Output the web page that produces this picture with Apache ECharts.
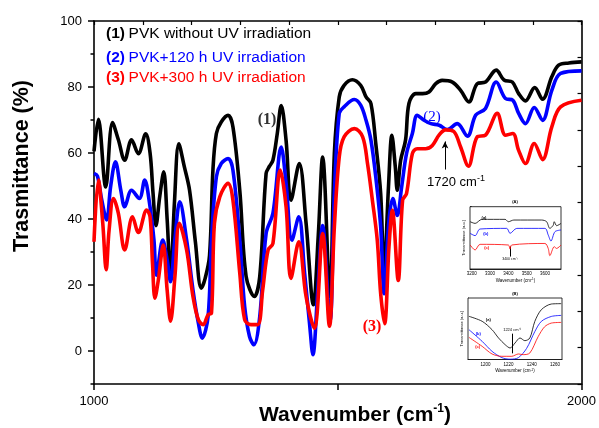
<!DOCTYPE html>
<html><head><meta charset="utf-8">
<script src="https://cdn.jsdelivr.net/npm/echarts@6/dist/echarts.min.js"></script>
<style>html,body{margin:0;padding:0;background:#fff}#c{width:599px;height:428px}</style>
</head><body><div id="c"></div>
<script>
// ---- main spectrum data (wavenumber cm-1, transmittance %) ----
const blackWn = [1000,1009,1024,1038,1050,1063,1077,1091,1106,1115,1121,1127,1135,1143,1150,1157,1165,1174,1185,1196,1208,1220,1228,1237,1244,1251,1261,1275,1285,1299,1312,1329,1340,1353,1360,1367,1376,1384,1394,1404,1421,1435,1450,1460,1469,1484,1493,1503,1513,1530,1547,1558,1568,1578,1588,1595,1604,1611,1618,1622,1629,1639,1646,1660,1674,1687,1701,1714,1735,1752,1769,1786,1803,1825,1841,1858,1871,1885,1904,1920,1939,1953,1974,2000];
const blackT = [60.5,70.2,49.7,69.2,64,57.8,64,59.8,65.8,60,48,38,47,54.3,40,22.5,45,62.8,56,48.7,33,19,22,29,55,65.9,69.4,71.4,67.9,48.7,22.6,16.5,22.6,53.8,56,57.8,66,74.4,63.8,45.7,56.8,38.7,14,35,58.8,16.5,59.8,77,80.5,82.2,80.5,77,75,62.8,47.7,23.4,49.7,65.4,55.8,48.7,57.8,63.9,75,78,78,78.5,81,82,81.5,79,75.5,81,81.5,85.1,82.1,81.5,78,75.8,79.8,76.3,83.1,86.6,87.3,87.6];
const blueWn = [1000,1007,1016,1026,1034,1044,1055,1063,1077,1093,1104,1113,1123,1128,1141,1150,1157,1166,1176,1190,1203,1214,1222,1234,1241,1251,1261,1275,1285,1299,1309,1319,1328,1340,1353,1367,1384,1394,1406,1420,1432,1442,1449,1459,1469,1484,1493,1503,1513,1534,1547,1558,1568,1578,1588,1595,1605,1613,1622,1631,1641,1653,1663,1677,1691,1708,1725,1745,1766,1783,1803,1825,1844,1859,1871,1885,1903,1920,1939,1957,2000];
const blueT = [53.8,53,45.7,39.7,49.7,57.3,48.7,43.7,48.7,46.2,51.8,45.7,33.6,23,33.6,27.6,21,34,45.2,33.6,18.5,8.5,3.9,10.5,33.6,52.8,56.8,58.3,54.8,33.6,13.5,4.4,1.9,10.5,35.6,41.7,61.8,50.8,33.6,40.7,23.6,8.5,-1.1,18.5,38,9,47.7,72,74,76.2,74.5,69.9,63.9,52.7,37.6,17.4,39.6,46.2,41.1,49.7,59.8,65.9,71.4,69.9,68.9,68.4,67.1,68.9,65.1,71.5,73.5,81.5,76.5,76,72,68.9,73.8,69.9,79,84.1,84.9];
const redWn = [1000,1009,1018,1025,1031,1040,1050,1063,1079,1091,1108,1115,1120,1125,1132,1142,1150,1157,1166,1175,1190,1203,1214,1224,1234,1241,1247,1258,1275,1285,1299,1309,1322,1336,1346,1357,1367,1382,1394,1404,1420,1435,1452,1469,1483,1493,1503,1513,1534,1551,1561,1571,1581,1588,1596,1605,1612,1624,1633,1641,1653,1663,1680,1694,1708,1721,1738,1752,1768,1786,1803,1827,1844,1859,1871,1885,1903,1920,1939,1957,2000];
const redT = [33.1,51.8,38.7,24.6,36.7,46.2,41.7,30.6,40.7,35.9,42.7,40.7,26.6,16,21.6,32.1,18.5,9,22.6,38.7,30.6,16.5,9.5,8,11,11.5,38.7,46.7,50.8,45.7,23.6,9.5,8,8,18.5,30.6,32.6,54.8,43.7,22,33.1,16.5,6.9,35.6,7.5,37.6,58.8,64.9,67.4,64.9,56.8,45.7,33.6,17.4,8.3,31.5,42.6,21.4,45.7,47.7,59.8,61.3,61.3,62.3,65.5,67,66.5,61.8,56,64.9,65.4,72,65.4,65.9,60.8,56.8,62.9,58,67.9,74,76];

const seriesNames = ['PVK without UV irradiation','PVK+120 h UV irradiation','PVK+300 h UV irradiation'];
const seriesTags = ['(1)','(2)','(3)'];
const xTickLabels = [1000, 2000];
const yTickLabels = [0, 20, 40, 60, 80, 100];
const yMinorTicks = [-10, 10, 30, 50, 70, 90];
const markWn = 1720;

// ---- inset (A): 3200-3700 region ----
const aBlackWn = [3191,3218,3255,3382,3400,3430,3582,3609,3627,3645,3651,3664,3688];
const aBlackV  = [75.9,73.2,79.7,79.7,75.9,78.6,78.6,76,65.2,70,75.9,69.5,73.2];
const aBlueWn  = [3191,3218,3245,3391,3409,3446,3600,3618,3633,3655,3688];
const aBlueV   = [57.2,53.5,64.2,65.2,57.2,65.2,65.2,54.6,44.9,59.9,62.6];
const aRedWn   = [3191,3218,3245,3400,3409,3418,3600,3618,3627,3651,3664,3688];
const aRedV    = [38.5,30.5,39.6,38.5,32,38.5,41,33,21.4,35.8,33,38.5];
const aXLabels = [3200,3300,3400,3500,3600];
const aMarkWn = 3409;

// ---- inset (B): 1185-1265 region ----
const bBlackWn = [1185.8,1197.2,1205.7,1211.3,1217,1221.3,1225.5,1229.8,1234,1238.3,1242.6,1248.2,1256.8,1265.3];
const bBlackV  = [70.2,62.1,48.5,35,24.1,18.7,26.8,35,30.6,35,62.1,81,90.2,90.8];
const bBlueWn  = [1185.8,1197.2,1205.7,1214.2,1221.3,1228.4,1235.5,1242.6,1248.2,1256.8,1265.3];
const bBlueV   = [48.5,29.5,13.3,3,0.5,3,18,45.5,62,70,71.7];
const bRedWn   = [1185.8,1197.2,1205.7,1214.2,1222.7,1228.4,1232.6,1238.3,1245.4,1251,1256.8,1265.3];
const bRedV    = [36,21.4,9,5.2,5.2,9,7.9,10.6,37,53.2,59.2,60.3];
const bXLabels = [1200,1220,1240,1260];
const bMarkWn = 1222.7;

const zip = (a, b) => a.map((v, i) => [v, b[i]]);
const SANS = '"Liberation Sans", Arial, sans-serif';
const SERIF = '"Liberation Serif", "Times New Roman", serif';
const colors = ['#000000', '#0000ff', '#ff0000'];

const chart = echarts.init(document.getElementById('c'), null, {renderer: 'canvas'});

function mainSeries(name, data, color, extra) {
  return Object.assign({
    type: 'line', name, data, xAxisIndex: 0, yAxisIndex: 0,
    showSymbol: false, symbol: 'none', smooth: 0.35,
    lineStyle: {color, width: 3.6}, z: 3
  }, extra || {});
}
function insetSeries(data, color, xi, yi, extra) {
  return Object.assign({
    type: 'line', data, xAxisIndex: xi, yAxisIndex: yi,
    showSymbol: false, symbol: 'none', smooth: 0.3,
    lineStyle: {color, width: 0.8}, z: 5
  }, extra || {});
}
const tinyRich = {
  a: {fontSize: 4.5, fontFamily: SANS, color: '#000'},
  s: {fontSize: 3, fontFamily: SANS, color: '#000', verticalAlign: 'top'}
};
function insetX(gi, min, max, labels) {
  return {
    gridIndex: gi, type: 'value', min, max, position: 'bottom',
    axisLine: {onZero: false, lineStyle: {color: '#000', width: 0.8}},
    axisTick: {inside: true, length: 2, customValues: labels, lineStyle: {width: 0.6}},
    axisLabel: {customValues: labels, formatter: v => String(v), fontSize: 4.5, margin: 2.5, color: '#000', fontFamily: SANS},
    splitLine: {show: false},
    name: '{a|Wavenumber (cm}{s|-1}{a|)}', nameLocation: 'middle', nameGap: 9,
    nameTextStyle: {rich: tinyRich}
  };
}
function insetY(gi) {
  return {
    gridIndex: gi, type: 'value', min: 0, max: 100, interval: 12.5, position: 'left',
    axisLine: {onZero: false, lineStyle: {color: '#000', width: 0.8}},
    axisTick: {inside: true, length: 2, lineStyle: {width: 0.6}},
    axisLabel: {show: false}, splitLine: {show: false},
    name: 'Transmittance (a.u.)', nameLocation: 'middle', nameGap: 4, nameRotate: 90,
    nameTextStyle: {fontSize: 4, fontFamily: SANS, color: '#000'}
  };
}
function txt(x, y, text, opts) {
  return {type: 'text', x, y, z: 20, silent: true, style: Object.assign({
    text, fill: '#000', fontSize: 13, fontFamily: SANS,
    align: 'center', verticalAlign: 'middle', textAlign: 'center', textVerticalAlign: 'middle'
  }, opts || {})};
}
const legendRich = (c) => ({
  b: {fontSize: 15.5, fontFamily: SANS, fontWeight: 'bold', fill: c},
  n: {fontSize: 15.5, fontFamily: SANS, fill: c}
});
const legendY = [33.5, 58, 77.5];

const option = {
  animation: false,
  backgroundColor: '#fff',
  grid: [
    {left: 94, top: 21, right: 16, bottom: 44},
    {left: 470, top: 206.7, width: 91, height: 62.3, show: true, borderColor: '#000', borderWidth: 0.8, backgroundColor: '#fff', z: 4},
    {left: 468, top: 298, width: 94, height: 61.5, show: true, borderColor: '#000', borderWidth: 0.8, backgroundColor: '#fff', z: 4}
  ],
  xAxis: [
    {gridIndex: 0, type: 'value', min: 1000, max: 2000, interval: 500, position: 'bottom',
     axisLine: {onZero: false, lineStyle: {color: '#000', width: 1.6}},
     axisTick: {inside: false, length: 6, lineStyle: {width: 1.5, color: '#000'}},
     axisLabel: {formatter: v => xTickLabels.includes(v) ? String(v) : '', fontSize: 13, color: '#000', margin: 11, fontFamily: SANS},
     splitLine: {show: false}},
    {gridIndex: 0, type: 'value', min: 0, max: 10, interval: 1, position: 'top',
     axisLine: {onZero: false, lineStyle: {color: '#000', width: 1.6}},
     axisTick: {inside: true, length: 4, lineStyle: {width: 1.2, color: '#000'}},
     axisLabel: {show: false}, splitLine: {show: false}},
    insetX(1, 3190, 3688, aXLabels),
    insetX(2, 1185, 1266, bXLabels)
  ],
  yAxis: [
    {gridIndex: 0, type: 'value', min: -10, max: 100, position: 'left',
     axisLine: {onZero: false, lineStyle: {color: '#000', width: 1.6}},
     axisTick: {inside: false, length: 6, customValues: yTickLabels, lineStyle: {width: 1.5, color: '#000'}},
     axisLabel: {customValues: yTickLabels, fontSize: 13, color: '#000', margin: 12, fontFamily: SANS},
     splitLine: {show: false}},
    {gridIndex: 0, type: 'value', min: -10, max: 100, position: 'left',
     axisLine: {show: false, onZero: false},
     axisTick: {inside: false, length: 3.5, customValues: yMinorTicks, lineStyle: {width: 1.5, color: '#000'}},
     axisLabel: {show: false}, splitLine: {show: false}},
    {gridIndex: 0, type: 'value', min: 0, max: 10, interval: 1, position: 'right',
     axisLine: {onZero: false, lineStyle: {color: '#000', width: 1.6}},
     axisTick: {inside: true, length: 4, lineStyle: {width: 1.2, color: '#000'}},
     axisLabel: {show: false}, splitLine: {show: false}},
    insetY(1),
    insetY(2)
  ],
  series: [
    mainSeries(seriesNames[0], zip(blackWn, blackT), colors[0]),
    mainSeries(seriesNames[1], zip(blueWn, blueT), colors[1]),
    mainSeries(seriesNames[2], zip(redWn, redT), colors[2], {
      markLine: {silent: true, symbol: ['none', 'arrow'], symbolSize: [5, 7],
        lineStyle: {color: '#000', width: 1, type: 'solid'}, label: {show: false},
        data: [[{coord: [markWn, 55]}, {coord: [markWn, 63.5]}]]}
    }),
    insetSeries(zip(aBlackWn, aBlackV), colors[0], 2, 3),
    insetSeries(zip(aBlueWn, aBlueV), colors[1], 2, 3),
    insetSeries(zip(aRedWn, aRedV), colors[2], 2, 3, {
      markLine: {silent: true, symbol: ['none', 'none'], lineStyle: {color: '#000', width: 1, type: 'solid'}, label: {show: false},
        data: [[{coord: [aMarkWn, 36]}, {coord: [aMarkWn, 20]}]]}
    }),
    insetSeries(zip(bBlackWn, bBlackV), colors[0], 3, 4),
    insetSeries(zip(bBlueWn, bBlueV), colors[1], 3, 4),
    insetSeries(zip(bRedWn, bRedV), colors[2], 3, 4, {
      markLine: {silent: true, symbol: ['none', 'none'], lineStyle: {color: '#000', width: 1, type: 'solid'}, label: {show: false},
        data: [[{coord: [bMarkWn, 42]}, {coord: [bMarkWn, 10]}]]}
    })
  ],
  graphic: [
    // axis titles
    txt(355, 415, '{t|Wavenumber (cm}{s|-1}{t|)}', {rich: {
      t: {fontSize: 21, fontWeight: 'bold', fontFamily: SANS, fill: '#000', lineHeight: 24},
      s: {fontSize: 12, fontWeight: 'bold', fontFamily: SANS, fill: '#000', verticalAlign: 'top', lineHeight: 14}
    }}),
    Object.assign(txt(22, 166, 'Trasmittance (%)', {fontSize: 21.5, fontWeight: 'bold'}), {rotation: Math.PI / 2}),
    // legend
    ...seriesNames.map((n, i) => txt(106, legendY[i], '{b|' + seriesTags[i] + '} {n|' + n + '}',
      {rich: legendRich(colors[i]), align: 'left', textAlign: 'left'})),
    // curve labels
    txt(267, 120, '(1)', {fontFamily: SERIF, fontSize: 16, fontWeight: 'bold', fill: '#333'}),
    txt(432, 117, '(2)', {fontFamily: SERIF, fontSize: 15, fill: '#0000ff'}),
    txt(372, 327, '(3)', {fontFamily: SERIF, fontSize: 16, fontWeight: 'bold', fill: '#ff0000'}),
    txt(456, 182, '{t|1720 cm}{s|-1}', {rich: {
      t: {fontSize: 13, fontFamily: SANS, fill: '#000', lineHeight: 16},
      s: {fontSize: 9, fontFamily: SANS, fill: '#000', verticalAlign: 'top', lineHeight: 10}
    }}),
    // inset labels
    txt(515, 202.3, '(A)', {fontSize: 4, fontWeight: 'bold'}),
    txt(515, 293.7, '(B)', {fontSize: 4, fontWeight: 'bold'}),
    txt(484, 217.7, '(a)', {fontSize: 4, fontWeight: 'bold'}),
    txt(485.7, 234, '(b)', {fontSize: 4, fontWeight: 'bold', fill: '#0000ff'}),
    txt(486.7, 247.7, '(c)', {fontSize: 4, fontWeight: 'bold', fill: '#ff0000'}),
    txt(510, 259.5, '3400 cm\u207B\u00B9', {fontSize: 3.5}),
    txt(488.3, 320.3, '(a)', {fontSize: 4, fontWeight: 'bold'}),
    txt(478.3, 334, '(b)', {fontSize: 4, fontWeight: 'bold', fill: '#0000ff'}),
    txt(477.7, 347.3, '(c)', {fontSize: 4, fontWeight: 'bold', fill: '#ff0000'}),
    txt(512, 329.7, '1224 cm\u207B\u00B9', {fontSize: 4})
  ]
};
chart.setOption(option);
</script>
</body></html>
